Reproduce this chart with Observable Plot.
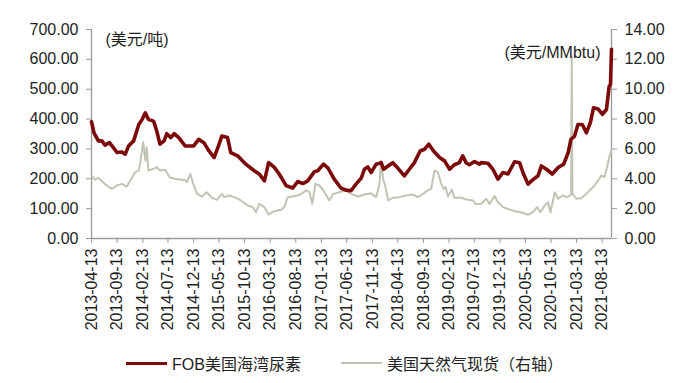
<!DOCTYPE html>
<html>
<head>
<meta charset="utf-8">
<script src="https://cdn.jsdelivr.net/npm/d3@7"></script>
<script src="https://cdn.jsdelivr.net/npm/@observablehq/plot@0.6"></script>
<style>
  html, body { margin: 0; padding: 0; background: #fff; }
  #wrap { width: 700px; height: 383px; position: relative; overflow: hidden; }
  .legend { position: absolute; left: 0; top: 345px; width: 700px; height: 38px;
    font-family: "Liberation Sans", Arial, "Noto Sans CJK SC", sans-serif; font-size: 16px; color: #222; }
  .item { position: absolute; top: 8px; display: flex; align-items: center; height: 20px; white-space: nowrap; }
  .sw { display: inline-block; width: 41px; margin-right: 5px; }
</style>
</head>
<body>
<div id="wrap"></div>
<script>
// ---------- DATA ----------
const ureaName = "FOB美国海湾尿素";
const gasName = "美国天然气现货（右轴）";
const leftUnit = "(美元/吨)";
const rightUnit = "(美元/MMbtu)";

const ureaDates = [
  "2013-04-13","2013-04-28","2013-05-24","2013-06-14","2013-07-03","2013-07-29","2013-08-18","2013-09-12",
  "2013-10-11","2013-10-31","2013-11-20","2013-12-20","2014-01-20","2014-02-09","2014-02-28","2014-03-18",
  "2014-04-18","2014-05-07","2014-05-26","2014-06-20","2014-07-06","2014-07-30","2014-08-19","2014-09-15",
  "2014-10-23","2014-12-13","2015-01-12","2015-02-12","2015-03-11","2015-04-14","2015-05-10","2015-05-30",
  "2015-07-03","2015-07-22","2015-09-01","2015-10-20","2015-12-09","2016-01-08","2016-02-08","2016-03-04",
  "2016-04-07","2016-05-06","2016-06-16","2016-07-25","2016-08-25","2016-09-24","2016-10-23","2016-12-02",
  "2016-12-22","2017-01-25","2017-02-21","2017-03-30","2017-05-09","2017-06-08","2017-07-08","2017-08-07",
  "2017-09-07","2017-09-26","2017-10-16","2017-11-05","2017-12-05","2018-01-04","2018-01-18","2018-02-14",
  "2018-03-14","2018-04-13","2018-05-22","2018-06-21","2018-07-21","2018-08-24","2018-09-20","2018-10-15",
  "2018-11-12","2018-12-18","2019-01-17","2019-02-16","2019-03-16","2019-04-15","2019-05-05","2019-05-25",
  "2019-06-14","2019-07-14","2019-08-13","2019-08-23","2019-10-02","2019-11-01","2019-12-01","2019-12-31",
  "2020-01-30","2020-03-09","2020-04-08","2020-04-28","2020-05-28","2020-06-27","2020-07-27","2020-08-16",
  "2020-09-15","2020-10-20","2020-11-24","2020-12-27","2021-01-23","2021-02-08","2021-03-02","2021-03-22",
  "2021-04-17","2021-05-11","2021-06-04","2021-06-23","2021-07-20","2021-08-15","2021-09-08","2021-09-24",
  "2021-10-02","2021-10-08"
];
const ureaValues = [
  391,354,327,327,313,321,307,288,
  290,282,310,327,382,399,421,399,
  393,360,316,327,351,338,351,338,
  310,310,332,321,296,271,310,343,
  338,288,277,249,227,216,193,254,
  238,216,177,169,191,184,193,224,
  227,249,236,199,169,162,160,182,
  202,232,240,221,249,254,232,243,
  254,236,210,232,254,293,299,316,
  293,271,260,232,247,254,277,254,
  247,258,249,254,252,232,199,221,
  216,257,254,221,182,197,210,243,
  232,216,238,249,288,332,343,382,
  382,354,388,438,434,416,432,510,
  516,634
];

const gasDates = [
  "2013-04-13","2013-05-04","2013-05-24","2013-06-20","2013-07-13","2013-08-12","2013-09-12","2013-10-11",
  "2013-11-10","2013-11-30","2013-12-29","2014-01-20","2014-01-29","2014-02-15","2014-02-28","2014-03-08",
  "2014-03-18","2014-04-18","2014-05-07","2014-05-26","2014-06-26","2014-07-25","2014-08-25","2014-09-24",
  "2014-10-23","2014-11-03","2014-11-23","2014-12-09","2015-01-02","2015-02-01","2015-03-01","2015-03-31",
  "2015-04-30","2015-05-30","2015-06-13","2015-07-12","2015-08-12","2015-09-21","2015-10-31","2015-11-30",
  "2015-12-20","2016-01-08","2016-02-08","2016-03-04","2016-04-07","2016-05-17","2016-06-05","2016-06-26",
  "2016-07-25","2016-08-25","2016-09-14","2016-10-14","2016-11-03","2016-11-19","2016-12-08","2017-01-01",
  "2017-01-25","2017-03-01","2017-03-24","2017-04-29","2017-06-08","2017-07-08","2017-08-18","2017-09-26",
  "2017-11-05","2017-12-05","2017-12-25","2018-01-04","2018-01-15","2018-01-30","2018-02-14","2018-03-14",
  "2018-04-22","2018-06-01","2018-07-11","2018-08-10","2018-09-10","2018-10-09","2018-10-29","2018-11-18",
  "2018-12-08","2018-12-28","2019-01-11","2019-01-23","2019-02-06","2019-03-02","2019-03-16","2019-04-25",
  "2019-06-04","2019-07-04","2019-07-23","2019-08-23","2019-09-22","2019-10-12","2019-11-11","2019-12-01",
  "2019-12-31","2020-02-08","2020-03-19","2020-04-28","2020-05-28","2020-06-27","2020-07-21","2020-08-10",
  "2020-09-05","2020-09-25","2020-10-09","2020-11-04","2020-11-24","2020-12-20","2021-01-13","2021-02-03",
  "2021-02-09","2021-02-13","2021-02-17","2021-02-26","2021-03-12","2021-04-11","2021-05-11","2021-06-10",
  "2021-06-29","2021-07-20","2021-08-09","2021-08-28","2021-09-14","2021-09-24","2021-10-02","2021-10-08"
];
const gasValues = [
  4.22,3.93,4.07,3.77,3.55,3.33,3.55,3.66,
  3.48,3.88,4.44,4.55,5.11,6.45,5.22,6.11,
  4.55,4.67,4.78,4.55,4.60,4.07,4.00,3.93,
  3.93,3.77,4.33,3.70,2.99,2.81,3.10,2.73,
  2.59,2.99,2.77,2.88,2.77,2.55,2.21,2.10,
  1.76,2.32,2.10,1.61,1.83,1.92,2.10,2.77,
  2.81,2.88,2.99,3.22,3.10,2.32,3.66,3.55,
  3.22,2.55,2.99,3.10,3.22,2.99,2.81,2.95,
  3.03,2.77,3.66,5.22,4.00,3.44,2.55,2.73,
  2.77,2.88,2.95,2.77,2.99,3.22,3.33,4.55,
  4.44,3.66,3.33,3.44,2.81,3.26,2.73,2.73,
  2.59,2.55,2.30,2.32,2.66,2.32,2.84,2.43,
  2.10,1.94,1.81,1.72,1.59,1.76,2.10,1.76,
  2.21,2.43,1.76,3.10,2.66,2.88,2.77,2.88,
  2.95,12.20,3.00,2.88,2.66,2.70,2.99,3.33,
  3.55,3.88,4.22,4.11,4.89,5.44,5.67,6.00
];

const xTicks = [
  "2013-04-13","2013-09-13","2014-02-13","2014-07-13","2014-12-13","2015-05-13","2015-10-13",
  "2016-03-13","2016-08-13","2017-01-13","2017-06-13","2017-11-13","2018-04-13","2018-09-13",
  "2019-02-13","2019-07-13","2019-12-13","2020-05-13","2020-10-13","2021-03-13","2021-08-13"
];
const leftTicks = [0, 100, 200, 300, 400, 500, 600, 700];
const rightTicks = [0, 2, 4, 6, 8, 10, 12, 14];

// ---------- BUILD ----------
const parse = d3.utcParse("%Y-%m-%d");
const urea = ureaDates.map((d, i) => ({date: parse(d), value: ureaValues[i]}));
const gas = gasDates.map((d, i) => ({date: parse(d), value: gasValues[i]}));
const tickDates = xTicks.map(parse);
const xDomain = [tickDates[0], urea[urea.length - 1].date];
const leftMax = leftTicks[leftTicks.length - 1];
const rightMax = rightTicks[rightTicks.length - 1];
const k = leftMax / rightMax; // right-axis to left-axis factor

const axisColor = "#9a9a9a";
const textColor = "#1e1e1e";
const font = '"Liberation Sans", Arial, "Noto Sans CJK SC", sans-serif';

const chart = Plot.plot({
  width: 700,
  height: 345,
  marginLeft: 91,
  marginRight: 89,
  marginTop: 29,
  marginBottom: 107,
  style: {fontFamily: font, fontSize: "16px", background: "#fff", color: textColor, overflow: "visible"},
  x: {type: "utc", domain: xDomain},
  y: {domain: [0, leftMax]},
  marks: [
    Plot.axisY({anchor: "left", ticks: leftTicks, tickFormat: d => d.toFixed(2), tickSize: 5, tickPadding: 8,
      label: null, stroke: axisColor, fill: textColor, fontSize: 16}),
    Plot.axisY({anchor: "right", ticks: rightTicks.map(v => v * k), tickFormat: d => (d / k).toFixed(2),
      tickSize: 5, tickPadding: 8, label: null, stroke: axisColor, fill: textColor, fontSize: 16}),
    Plot.axisX({ticks: tickDates, tickFormat: d3.utcFormat("%Y-%m-%d"), tickRotate: -90, tickSize: 5,
      tickPadding: 5, label: null, stroke: axisColor, fill: textColor, fontSize: 16}),
    Plot.ruleX(xDomain, {stroke: axisColor, strokeWidth: 1.3}),
    Plot.ruleY([0], {stroke: axisColor, strokeWidth: 1.3}),
    Plot.line(gas, {x: "date", y: d => d.value * k, stroke: "#c3c3b5", strokeWidth: 2}),
    Plot.line(urea, {x: "date", y: "value", stroke: "#7c0a0a", strokeWidth: 3.6, strokeLinejoin: "round"}),
    Plot.text([leftUnit], {frameAnchor: "top-left", text: d => d, dx: 14, dy: 4, textAnchor: "start",
      fontSize: 16, fill: textColor}),
    Plot.text([rightUnit], {frameAnchor: "top-right", text: d => d, dx: -11, dy: 17, textAnchor: "end",
      fontSize: 16, fill: textColor})
  ]
});

const wrap = document.getElementById("wrap");
wrap.appendChild(chart);

const legend = document.createElement("div");
legend.className = "legend";
legend.innerHTML = `
  <div class="item" style="left:126px"><span class="sw" style="border-top:3.5px solid #7c0a0a"></span>${ureaName}</div>
  <div class="item" style="left:341px"><span class="sw" style="border-top:2px solid #c3c3b5"></span>${gasName}</div>`;
wrap.appendChild(legend);
</script>
</body>
</html>
